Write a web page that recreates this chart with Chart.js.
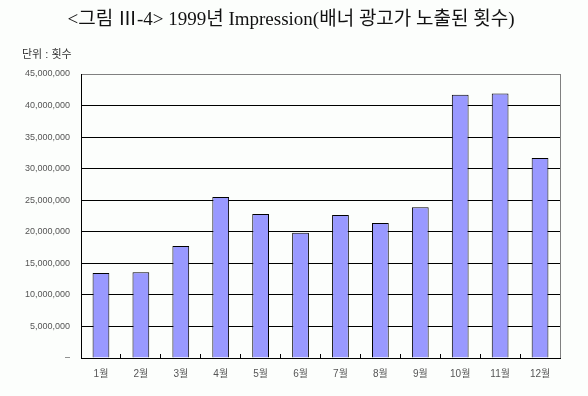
<!DOCTYPE html>
<html>
<head>
<meta charset="utf-8">
<script src="https://cdn.jsdelivr.net/npm/chart.js@4.4.1/dist/chart.umd.min.js"></script>
<style>
  html, body { margin:0; padding:0; background:#fcfefc; }
  #wrap { width:588px; height:396px; }
</style>
</head>
<body>
<div id="wrap"><canvas id="imp-chart" width="588" height="396"></canvas></div>
<script>
// 1999년 월별 배너 광고 노출 횟수
const months = ['1월','2월','3월','4월','5월','6월','7월','8월','9월','10월','11월','12월'];
const impressions = [13450000, 13600000, 17750000, 25500000, 22800000, 19850000,
                     22650000, 21400000, 23900000, 41700000, 41900000, 31700000];
const yTickLabels = ['–','5,000,000','10,000,000','15,000,000','20,000,000',
                     '25,000,000','30,000,000','35,000,000','40,000,000','45,000,000'];
const yStep = 5000000;
const yMax  = 45000000;

(function() {
  const bg = '#fcfefc';
  const labelColor = '#555555';
  const sansKR = "'Liberation Sans', 'Noto Sans CJK KR', sans-serif";

  // plot frame: gray right edge like the original
  const frame = {
    id: 'frame',
    beforeDraw(chart) {
      const c = chart.ctx;
      c.save();
      c.fillStyle = bg;
      c.fillRect(0, 0, chart.width, chart.height);
      c.restore();
    },
    beforeDatasetsDraw(chart) {
      const a = chart.chartArea, c = chart.ctx;
      c.save();
      c.strokeStyle = '#808080';
      c.lineWidth = 1;
      c.beginPath();
      c.moveTo(Math.round(a.right) + 0.5, a.top);
      c.lineTo(Math.round(a.right) + 0.5, a.bottom);
      c.stroke();
      c.restore();
    }
  };

  new Chart(document.getElementById('imp-chart'), {
    type: 'bar',
    data: {
      labels: months,
      datasets: [{
        label: 'Impression',
        data: impressions,
        backgroundColor: '#9999ff',
        borderColor: '#000000',
        borderWidth: 1,
        categoryPercentage: 1,
        barPercentage: 0.42
      }]
    },
    options: {
      responsive: false,
      animation: false,
      layout: { padding: { left: 22, right: 28, top: 0, bottom: 0 } },
      plugins: {
        legend: { display: false },
        tooltip: { enabled: false },
        title: {
          display: true,
          text: '<그림 Ⅲ-4> 1999년 Impression(배너 광고가 노출된 횟수)',
          color: '#111111',
          font: { family: "'Liberation Serif', 'Noto Sans CJK KR', serif", size: 19, weight: 'normal' },
          padding: { top: 9, bottom: 17 }
        },
        subtitle: {
          display: true,
          text: '단위 : 횟수',
          align: 'start',
          color: '#333333',
          font: { family: sansKR, size: 11 },
          padding: { top: 0, bottom: 12 }
        }
      },
      scales: {
        x: {
          afterFit(s) { s.height = 38; },
          border: { color: '#000000', width: 1 },
          grid: { drawOnChartArea: false, drawTicks: true, tickLength: -4, color: '#000000' },
          ticks: { color: labelColor, font: { family: sansKR, size: 10 }, padding: 14, maxRotation: 0 }
        },
        y: {
          min: 0, max: yMax,
          afterFit(s) { s.width = 59; },
          border: { color: '#000000', width: 1 },
          grid: {
            drawTicks: false,
            color: ctx => (ctx.tick && ctx.tick.value === yMax) ? '#808080' : '#000000'
          },
          ticks: {
            stepSize: yStep,
            padding: 11,
            color: labelColor,
            font: { family: sansKR, size: 9 },
            callback: v => yTickLabels[Math.round(v / yStep)]
          }
        }
      }
    },
    plugins: [frame]
  });
})();
</script>
</body>
</html>
